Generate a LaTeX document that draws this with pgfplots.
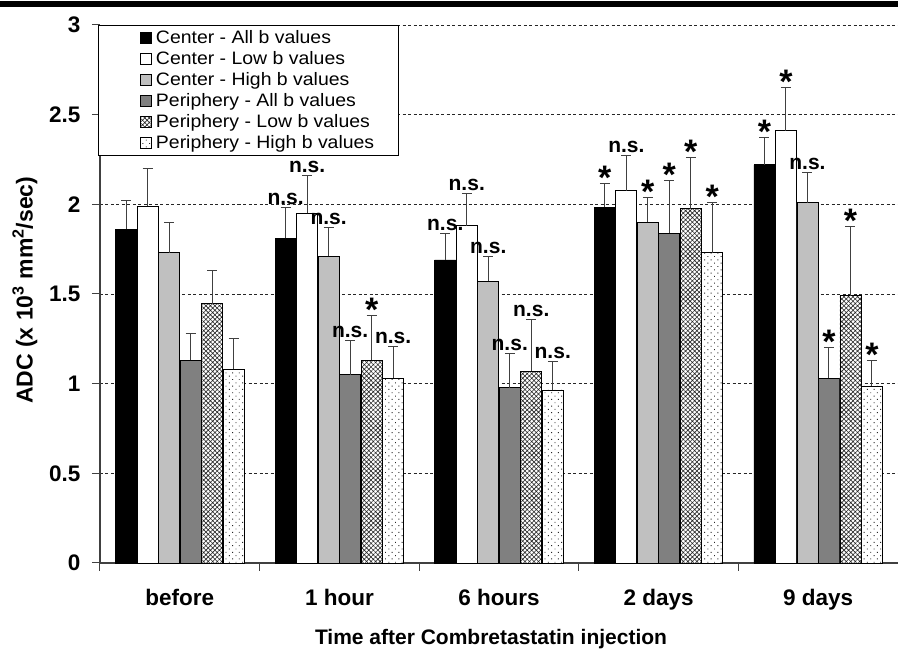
\documentclass[border=0pt]{standalone}
\usepackage{fontspec}
\setmainfont{Liberation Sans}
\newfontfamily\legfont[FakeStretch=1.08]{Liberation Sans}
\usepackage{pgfplots}
\pgfplotsset{compat=1.18}
\usetikzlibrary{patterns.meta}
\definecolor{lg}{HTML}{C0C0C0}
\definecolor{dg}{HTML}{808080}
\definecolor{ax}{HTML}{404040}
\newcommand{\ns}[3]{\node[anchor=base,font=\bfseries\fontsize{21}{21}\selectfont,inner sep=0pt] at ([xshift=#2pt,yshift=3pt]axis cs:#1,#3) {n.s.};}
\newcommand{\st}[3]{\node[anchor=base,font=\bfseries\fontsize{34}{34}\selectfont,inner sep=0pt] at ([xshift=#2pt,yshift=-6pt]axis cs:#1,#3) {*};}
\pgfplotstableread{
x y e
0 1.86 0.16
1 1.81 0.17
2 1.69 0.145
3 1.985 0.13
4 2.22 0.155
}\sA
\pgfplotstableread{
x y e
0 1.99 0.21
1 1.95 0.21
2 1.88 0.18
3 2.075 0.195
4 2.41 0.24
}\sB
\pgfplotstableread{
x y e
0 1.73 0.17
1 1.71 0.16
2 1.57 0.14
3 1.90 0.14
4 2.01 0.17
}\sC
\pgfplotstableread{
x y e
0 1.13 0.15
1 1.05 0.19
2 0.977 0.19
3 1.84 0.295
4 1.03 0.17
}\sD
\pgfplotstableread{
x y e
0 1.445 0.185
1 1.13 0.25
2 1.07 0.285
3 1.975 0.285
4 1.49 0.385
}\sE
\pgfplotstableread{
x y e
0 1.08 0.17
1 1.03 0.18
2 0.965 0.16
3 1.73 0.28
4 0.987 0.143
}\sF
\pgfplotsset{
  errstyle/.style={
    error bars/y dir=plus, error bars/y explicit,
    error bars/error bar style={ax, line width=1pt},
    error bars/error mark options={ax, mark size=5pt, line width=1pt, rotate=90}}
}
\begin{document}
\begin{tikzpicture}
\useasboundingbox (-100pt,-89pt) rectangle (798pt,563pt);
\fill[black] (-100pt,556pt) rectangle (798pt,561.5pt);
\begin{axis}[
  at={(0pt,0pt)}, anchor=south west,
  width=798pt, height=538pt, scale only axis,
  xmin=-0.5, xmax=4.5, ymin=0, ymax=3,
  axis lines*=left,
  axis line style={ax, line width=1.2pt},
  clip=false,
  ybar=0.5pt, bar width=21pt,
  xtick={0,1,2,3,4},
  xticklabels={before,1 hour,6 hours,2 days,9 days},
  major x tick style={draw=none},
  minor xtick={-0.5,0.5,1.5,2.5,3.5},
  ytick={0,0.5,1,1.5,2,2.5,3},
  tick align=outside,
  major tick length=8pt, minor tick length=8pt,
  tick style={ax, line width=1pt},
  ymajorgrids,
  grid style={dash pattern=on 3pt off 2.5pt, black!85, line width=0.9pt},
  /pgf/number format/assume math mode=true,
  ticklabel style={font=\bfseries\fontsize{22.5}{22.5}\selectfont},
  xticklabel style={anchor=base, yshift=-35pt},
  yticklabel style={xshift=-8pt},
  ylabel={ADC (x 10\textsuperscript{3} mm\textsuperscript{2}/sec)},
  xlabel={Time after Combretastatin injection},
  every axis y label/.style={at={(axis description cs:-0.094,0.507)}, rotate=90, anchor=center, font=\bfseries\fontsize{23}{23}\selectfont},
  every axis x label/.style={at={(axis description cs:0.49,0)}, anchor=base, yshift=-82pt, font=\bfseries\fontsize{21}{21}\selectfont},
  legend style={at={(rel axis cs:0,1)}, anchor=north west, xshift=40pt, yshift=-6pt,
    draw=none, fill=none, inner sep=0pt, row sep=4.6pt,
    font=\legfont\fontsize{18}{18}\selectfont,
    nodes={inner sep=0pt, text height=12.5pt, text depth=3.8pt},
    /tikz/every odd column/.append style={column sep=4pt}},
  legend cell align=left,
  legend image code/.code={\draw[#1] (0pt,-4.5pt) rectangle (11pt,6.5pt);},
]
\addplot[fill=black, draw=black, line width=0.8pt, errstyle]
  table[x=x,y=y,y error=e] {\sA};
\addplot[fill=white, draw=black, line width=0.8pt, errstyle]
  table[x=x,y=y,y error=e] {\sB};
\addplot[fill=lg, draw=black, line width=0.8pt, errstyle]
  table[x=x,y=y,y error=e] {\sC};
\addplot[fill=dg, draw=black, line width=0.8pt, errstyle]
  table[x=x,y=y,y error=e] {\sD};
\addplot[fill=white, draw=black, line width=0.8pt,
  postaction={pattern={Hatch[angle=45,distance=3.2pt,line width=0.6pt]}, pattern color=black!85},
  errstyle]
  table[x=x,y=y,y error=e] {\sE};
\addplot[fill=white, draw=black, line width=0.8pt,
  postaction={pattern={Dots[angle=45,distance=4.7pt,radius=0.65pt]}, pattern color=black!85},
  errstyle]
  table[x=x,y=y,y error=e] {\sF};
\legend{Center - All b values, Center - Low b values, Center - High b values, Periphery - All b values, Periphery - Low b values, Periphery - High b values}
\draw[black, line width=0.8pt, fill=white] ([xshift=-2pt]rel axis cs:0,1) rectangle ([xshift=298pt,yshift=-130pt]rel axis cs:0,1);
% 1 hour
\ns{1}{-53.75}{1.98}
\ns{1}{-32.25}{2.16}
\ns{1}{-10.75}{1.87}
\ns{1}{10.75}{1.24}
\st{1}{32.25}{1.38}
\ns{1}{53.75}{1.21}
% 6 hours
\ns{2}{-53.75}{1.835}
\ns{2}{-32.25}{2.06}
\ns{2}{-10.75}{1.71}
\ns{2}{10.75}{1.167}
\ns{2}{32.25}{1.355}
\ns{2}{53.75}{1.125}
% 2 days
\st{3}{-53.75}{2.115}
\ns{3}{-32.25}{2.27}
\st{3}{-10.75}{2.04}
\st{3}{10.75}{2.135}
\st{3}{32.25}{2.26}
\st{3}{53.75}{2.01}
% 9 days
\st{4}{-53.75}{2.375}
\st{4}{-32.25}{2.65}
\ns{4}{-10.75}{2.18}
\st{4}{10.75}{1.20}
\st{4}{32.25}{1.875}
\st{4}{53.75}{1.13}
\end{axis}
\end{tikzpicture}
\end{document}
